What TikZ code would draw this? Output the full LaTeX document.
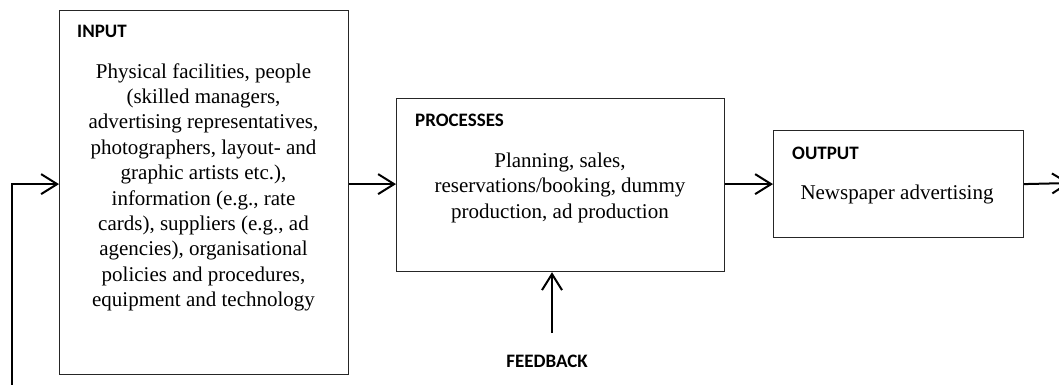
\documentclass[tikz,border=0pt]{standalone}
\usepackage{fontspec}
\setmainfont{Liberation Serif}
\newfontfamily\titlefont{Carlito}[BoldFont={Carlito Bold}]
\usetikzlibrary{arrows.meta}
\tikzset{
  box/.style={draw=black!85, line width=1.2pt, inner sep=0pt, anchor=north west},
  ttl/.style={anchor=base west, inner sep=0pt, font=\titlefont\bfseries\fontsize{19}{23}\selectfont},
  bodytxt/.style={anchor=base, inner sep=0pt, align=center, font=\fontsize{21}{25.4}\selectfont},
  arr/.style={line width=2pt, -{Straight Barb[length=16pt,width=20pt,line width=2pt]}},
}
\begin{document}
\begin{tikzpicture}[x=1pt,y=-1pt]
\useasboundingbox (0,0) rectangle (1059,385);
\clip (0,0) rectangle (1059,385);
% boxes
\node[box, minimum width=289pt, minimum height=364pt] (input) at (59,10) {};
\node[box, minimum width=328pt, minimum height=173pt] (proc) at (396,98) {};
\node[box, minimum width=250pt, minimum height=107pt] (output) at (773,130) {};
% titles
\node[ttl] (inputT) at (77,38) {INPUT};
\node[ttl] (procT) at (415,127) {PROCESSES};
\node[ttl] (outputT) at (792,159) {OUTPUT};
\node[ttl, anchor=base] (fbT) at (547,367) {FEEDBACK};
% body text (anchor = baseline of last line)
\node[bodytxt] (inputB) at (203.5,306.6) {Physical facilities, people\\(skilled managers,\\advertising representatives,\\photographers, layout- and\\graphic artists etc.),\\information (e.g., rate\\cards), suppliers (e.g., ad\\agencies), organisational\\policies and procedures,\\equipment and technology};
\node[bodytxt] (procB) at (560,218) {Planning, sales,\\reservations/booking, dummy\\production, ad production};
\node[bodytxt] (outputB) at (897,199) {Newspaper advertising};
% coordinates
\coordinate (fbIn) at (12,385);
\coordinate (fbStart) at (552,333);
\coordinate (outEnd) at (1070,183);
% connectors
\draw[arr] (fbIn) |- (input.west |- output.west);
\draw[arr] (input.east |- output.west) -- (proc.west |- output.west);
\draw[arr] (proc.east |- output.west) -- (output.west);
\draw[arr] (output.east) -- (outEnd);
\draw[arr] (fbStart) -- (proc.south -| fbStart);
\end{tikzpicture}
\end{document}
